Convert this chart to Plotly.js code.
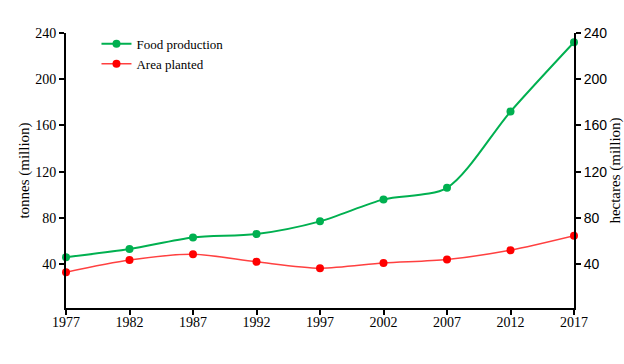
<!DOCTYPE html>
<html>
<head>
<meta charset="utf-8">
<script src="https://cdn.plot.ly/plotly-3.0.1.min.js"></script>
<style>html,body{margin:0;padding:0;background:#fff;}#chart{width:624px;height:364px;}</style>
</head>
<body>
<div id="chart"></div>
<script>
const years = [1977, 1982, 1987, 1992, 1997, 2002, 2007, 2012, 2017];
const foodProduction = [46, 53, 63, 66, 77, 96, 106, 172, 232];
const areaPlanted = [33, 43.5, 48.5, 42, 36.5, 41, 44, 52, 64.5];
const yTicks = [40, 80, 120, 160, 200, 240];

const serif = "Liberation Serif, Times New Roman, serif";
const sans = "Liberation Sans, Arial, sans-serif";

const traces = [
  {
    x: years, y: foodProduction, name: "Food production", type: "scatter", mode: "lines+markers",
    line: {color: "#00b050", width: 2, shape: "spline", smoothing: 0.8},
    marker: {color: "#00b050", size: 8}, cliponaxis: false, yaxis: "y"
  },
  {
    x: years, y: areaPlanted, name: "Area planted", type: "scatter", mode: "lines+markers",
    line: {color: "#ff4040", width: 1.5, shape: "spline", smoothing: 0.8},
    marker: {color: "#ff0000", size: 8}, cliponaxis: false, yaxis: "y2"
  }
];

const layout = {
  width: 624, height: 364,
  margin: {l: 66, r: 50, t: 33, b: 56},
  paper_bgcolor: "#fff", plot_bgcolor: "#fff",
  showlegend: true,
  legend: {x: 0.06, y: 1.015, xanchor: "left", yanchor: "top", bgcolor: "rgba(0,0,0,0)",
           font: {family: serif, size: 13, color: "#000"}, tracegroupgap: 0, itemwidth: 30},
  xaxis: {
    range: [1977, 2017], tickvals: years, ticktext: years.map(String),
    showline: true, linecolor: "#000", linewidth: 2, showgrid: false, zeroline: false,
    ticks: "outside", ticklen: 5, tickwidth: 2, tickcolor: "#000", ticklabelstandoff: -5,
    tickfont: {family: serif, size: 14, color: "#000"}, fixedrange: true
  },
  yaxis: {
    range: [2, 240], tickvals: yTicks,
    showline: true, linecolor: "#000", linewidth: 2, showgrid: false, zeroline: false,
    ticks: "outside", ticklen: 5, tickwidth: 2, tickcolor: "#000",
    tickfont: {family: serif, size: 14, color: "#000"},
    title: {text: "tonnes (million)", font: {family: serif, size: 15, color: "#000"}, standoff: 2}
  },
  yaxis2: {
    range: [2, 240], tickvals: yTicks, overlaying: "y", side: "right",
    showline: true, linecolor: "#000", linewidth: 2, showgrid: false, zeroline: false,
    ticks: "outside", ticklen: 5, tickwidth: 2, tickcolor: "#000",
    tickfont: {family: sans, size: 14, color: "#000"},
    title: {text: "hectares (million)", font: {family: serif, size: 15, color: "#000"}, standoff: 8}
  }
};

Plotly.newPlot("chart", traces, layout, {displayModeBar: false, staticPlot: true});
</script>
</body>
</html>
